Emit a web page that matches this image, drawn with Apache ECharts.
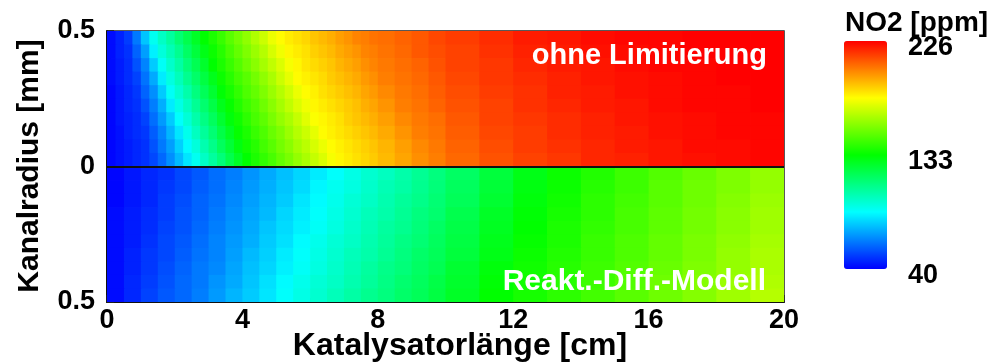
<!DOCTYPE html>
<html>
<head>
<meta charset="utf-8">
<script src="https://cdn.jsdelivr.net/npm/echarts@6/dist/echarts.min.js"></script>
<style>
  html, body { margin: 0; padding: 0; background: #ffffff; }
  #chart { width: 992px; height: 362px; }
</style>
</head>
<body>
<div id="chart"></div>
<script>
// Cell edges along the catalyst (cm), upper panel: 0.25 cm steps up to 8 cm, then 0.5 cm, then 1 cm
const xEdgesUpper = [0, 0.25, 0.5, 0.75, 1, 1.25, 1.5, 1.75, 2, 2.25, 2.5, 2.75, 3, 3.25, 3.5, 3.75, 4,
                     4.25, 4.5, 4.75, 5, 5.25, 5.5, 5.75, 6, 6.25, 6.5, 6.75, 7, 7.25, 7.5, 7.75, 8,
                     8.5, 9, 9.5, 10, 11, 12, 13, 14, 15, 16, 17, 18, 19, 20];
// Cell edges along the catalyst (cm), lower panel: 0.5 cm steps up to 10 cm, then 1 cm
const xEdgesLower = [0, 0.5, 1, 1.5, 2, 2.5, 3, 3.5, 4, 4.5, 5, 5.5, 6, 6.5, 7, 7.5, 8, 8.5, 9, 9.5, 10,
                     11, 12, 13, 14, 15, 16, 17, 18, 19, 20];

// Radial cell edges (mm): upper half from wall to axis, lower half from axis to wall
const yEdgesUpper = [0.5, 0.45, 0.4, 0.35, 0.3, 0.25, 0.2, 0.15, 0.1, 0.05, 0];
const yEdgesLower = [0, -0.05, -0.1, -0.15, -0.2, -0.25, -0.3, -0.35, -0.4, -0.45, -0.5];

// NO2 [ppm], "ohne Limitierung": one row per radial band, wall (r = 0.5) first
const no2Upper = [
  [42, 46, 51, 62, 76, 89, 97, 104, 112, 119, 126, 133, 138, 143, 149, 154, 159, 165, 170, 176, 180, 183, 185, 187, 190, 192, 194, 197, 199, 202, 203, 205, 206, 208, 210, 213, 215, 218, 221, 222, 224, 225, 225, 226, 226, 226],
  [42, 46, 49, 58, 69, 84, 93, 100, 107, 115, 122, 129, 135, 140, 146, 151, 156, 161, 166, 172, 177, 181, 183, 185, 188, 190, 192, 195, 197, 199, 202, 203, 205, 207, 210, 212, 214, 217, 220, 221, 223, 224, 225, 226, 226, 226],
  [42, 45, 48, 55, 64, 77, 88, 96, 103, 111, 118, 125, 133, 138, 143, 148, 153, 158, 163, 168, 173, 178, 181, 184, 186, 188, 190, 193, 195, 197, 200, 202, 204, 206, 208, 211, 214, 216, 219, 221, 222, 224, 225, 225, 226, 226],
  [42, 45, 48, 52, 61, 71, 83, 92, 99, 107, 114, 121, 128, 135, 140, 145, 149, 154, 159, 164, 170, 175, 180, 182, 184, 186, 189, 191, 193, 195, 198, 200, 203, 205, 207, 210, 213, 216, 218, 220, 222, 223, 224, 225, 226, 226],
  [41, 44, 47, 50, 58, 66, 77, 88, 95, 102, 110, 117, 124, 132, 137, 142, 147, 151, 156, 161, 166, 171, 176, 180, 182, 185, 187, 189, 191, 193, 196, 198, 201, 204, 206, 209, 212, 215, 217, 220, 221, 223, 224, 225, 225, 226],
  [41, 44, 47, 49, 55, 63, 72, 83, 91, 98, 106, 113, 120, 128, 134, 139, 144, 148, 153, 158, 163, 168, 173, 177, 181, 183, 185, 187, 189, 191, 194, 196, 199, 203, 205, 208, 211, 214, 217, 219, 221, 222, 224, 225, 225, 226],
  [41, 44, 46, 48, 52, 60, 68, 77, 87, 94, 102, 109, 116, 124, 131, 136, 141, 146, 150, 155, 160, 164, 169, 174, 179, 181, 183, 185, 188, 190, 192, 194, 197, 201, 204, 206, 210, 214, 216, 218, 220, 222, 223, 224, 225, 225],
  [41, 43, 46, 48, 50, 57, 64, 73, 82, 90, 98, 105, 112, 120, 127, 134, 138, 143, 147, 152, 156, 161, 166, 170, 175, 180, 182, 184, 186, 188, 190, 192, 195, 199, 203, 205, 209, 213, 215, 218, 220, 221, 223, 224, 225, 225],
  [41, 43, 45, 47, 49, 55, 62, 69, 78, 86, 93, 101, 108, 116, 123, 130, 136, 140, 145, 149, 154, 158, 163, 167, 172, 176, 180, 182, 184, 186, 188, 190, 193, 197, 201, 204, 208, 212, 215, 217, 219, 221, 222, 224, 224, 225],
  [41, 43, 45, 47, 49, 53, 59, 66, 74, 82, 89, 97, 104, 111, 119, 126, 133, 138, 142, 146, 151, 155, 160, 164, 169, 173, 178, 181, 183, 185, 187, 189, 192, 196, 200, 203, 207, 211, 214, 216, 219, 220, 222, 223, 224, 225]
];

// NO2 [ppm], "Reakt.-Diff.-Modell": one row per radial band, axis (r = 0) first
const no2Lower = [
  [41, 44, 47, 49, 53, 56, 60, 63, 67, 71, 75, 79, 83, 87, 91, 95, 98, 102, 106, 110, 115, 122, 129, 135, 139, 144, 148, 152, 156, 160],
  [41, 44, 47, 50, 53, 57, 60, 64, 68, 72, 76, 80, 85, 89, 92, 96, 100, 103, 107, 111, 116, 123, 130, 135, 140, 144, 149, 153, 156, 160],
  [41, 44, 47, 51, 54, 58, 61, 65, 69, 73, 77, 82, 86, 90, 94, 97, 101, 105, 108, 112, 117, 124, 131, 136, 141, 145, 149, 153, 157, 161],
  [42, 45, 48, 51, 55, 58, 62, 66, 70, 74, 79, 83, 87, 91, 95, 99, 102, 106, 110, 113, 119, 126, 132, 137, 141, 146, 150, 154, 158, 162],
  [42, 45, 48, 52, 55, 59, 63, 67, 71, 76, 80, 84, 88, 92, 96, 100, 104, 107, 111, 115, 120, 127, 133, 138, 142, 146, 150, 154, 158, 162],
  [42, 45, 49, 53, 56, 60, 64, 68, 72, 77, 81, 86, 90, 94, 97, 101, 105, 109, 112, 116, 121, 128, 134, 138, 143, 147, 151, 155, 159, 163],
  [42, 46, 50, 53, 57, 61, 64, 69, 74, 78, 83, 87, 91, 95, 99, 102, 106, 110, 114, 117, 122, 129, 135, 139, 143, 147, 151, 155, 160, 164],
  [42, 46, 50, 54, 58, 62, 65, 70, 75, 79, 84, 88, 92, 96, 100, 104, 108, 111, 115, 118, 124, 131, 136, 140, 144, 148, 152, 156, 160, 164],
  [42, 47, 51, 55, 59, 62, 67, 71, 76, 81, 86, 90, 94, 97, 101, 105, 109, 113, 116, 120, 125, 132, 136, 140, 144, 148, 153, 157, 161, 165],
  [42, 47, 52, 56, 59, 63, 68, 73, 77, 82, 87, 91, 95, 99, 103, 107, 110, 114, 117, 121, 126, 133, 137, 141, 145, 149, 153, 157, 162, 166]
];

const colorRange = [40, 226];
const colorbarTicks = [40, 133, 226];
const panelLabels = ['ohne Limitierung', 'Reakt.-Diff.-Modell'];
const axisTitles = { x: 'Katalysatorlänge [cm]', y: 'Kanalradius [mm]', color: 'NO2 [ppm]' };

const FONT = "'Liberation Sans', Arial, Helvetica, sans-serif";

// Flatten a block of rows into [x0, x1, y0, y1, value] cells
function toCells(rows, xEdges, yEdges) {
  const out = [];
  rows.forEach(function (row, i) {
    row.forEach(function (v, j) {
      out.push([xEdges[j], xEdges[j + 1], yEdges[i], yEdges[i + 1], v]);
    });
  });
  return out;
}

function renderCell(params, api) {
  const p0 = api.coord([api.value(0), api.value(2)]);
  const p1 = api.coord([api.value(1), api.value(3)]);
  const x = Math.min(p0[0], p1[0]);
  const y = Math.min(p0[1], p1[1]);
  return {
    type: 'rect',
    shape: { x: x, y: y, width: Math.abs(p1[0] - p0[0]) + 0.8, height: Math.abs(p1[1] - p0[1]) + 0.8 },
    style: { fill: api.visual('color') }
  };
}

const chart = echarts.init(document.getElementById('chart'), null, { renderer: 'canvas' });

const boldText = function (size, color) {
  return { color: color || '#000', fontFamily: FONT, fontWeight: 'bold', fontSize: size };
};

chart.setOption({
  animation: false,
  backgroundColor: '#ffffff',
  grid: [
    { left: 107, top: 31, width: 677, height: 271, show: true, borderColor: '#222', borderWidth: 1.5, backgroundColor: 'transparent' },
    { left: 844, top: 48, width: 43, height: 228, show: false }
  ],
  xAxis: [
    {
      type: 'value', gridIndex: 0, min: 0, max: 20, interval: 4,
      axisLine: { show: true, onZero: false, lineStyle: { color: '#111', width: 2 } },
      axisTick: { show: true, inside: true, length: 7, lineStyle: { color: '#222', width: 1.5 } },
      minorTick: { show: true, splitNumber: 4, length: 4, lineStyle: { color: '#333', width: 1 } },
      splitLine: { show: false },
      axisLabel: Object.assign({ margin: 5 }, boldText(27))
    },
    { type: 'value', gridIndex: 1, show: false, min: 0, max: 1 }
  ],
  yAxis: [
    {
      type: 'value', gridIndex: 0, min: -0.5, max: 0.5, interval: 0.5,
      axisLine: { show: true, onZero: false, lineStyle: { color: '#111', width: 2 } },
      axisTick: { show: true, inside: true, length: 7, lineStyle: { color: '#222', width: 1.5 } },
      minorTick: { show: true, splitNumber: 5, length: 4, lineStyle: { color: '#333', width: 1 } },
      splitLine: { show: false },
      axisLabel: Object.assign({
        margin: 12,
        padding: [4, 0, 0, 0],
        formatter: function (v) { return String(Math.abs(v)); }
      }, boldText(27))
    },
    {
      type: 'value', gridIndex: 1, min: colorRange[0], max: colorRange[1], position: 'right',
      axisLine: { show: false }, axisTick: { show: false }, splitLine: { show: false },
      axisLabel: Object.assign({ margin: 21, customValues: colorbarTicks, showMinLabel: true, showMaxLabel: true }, boldText(27))
    }
  ],
  visualMap: {
    type: 'continuous',
    min: colorRange[0], max: colorRange[1],
    dimension: 4,
    seriesIndex: [0, 1],
    orient: 'vertical',
    left: 844, top: 41,
    itemWidth: 43, itemHeight: 228,
    padding: 0,
    calculable: false,
    hoverLink: false,
    text: null,
    inRange: { color: ['#0000ff', '#00ffff', '#00ff00', '#ffff00', '#ff0000'] }
  },
  series: [
    {
      name: panelLabels[0],
      type: 'custom',
      xAxisIndex: 0, yAxisIndex: 0,
      clip: true,
      renderItem: renderCell,
      encode: { x: [0, 1], y: [2, 3] },
      data: toCells(no2Upper, xEdgesUpper, yEdgesUpper),
      silent: true,
      markLine: {
        silent: true,
        symbol: ['none', 'none'],
        label: { show: false },
        lineStyle: { color: '#111', width: 2, type: 'solid' },
        data: [{ yAxis: 0 }]
      },
      z: 1
    },
    {
      name: panelLabels[1],
      type: 'custom',
      xAxisIndex: 0, yAxisIndex: 0,
      clip: true,
      renderItem: renderCell,
      encode: { x: [0, 1], y: [2, 3] },
      data: toCells(no2Lower, xEdgesLower, yEdgesLower),
      silent: true,
      z: 1
    }
  ],
  graphic: [
    {
      type: 'text', x: 30, y: 166, rotation: Math.PI / 2, z: 10,
      style: { text: axisTitles.y, fill: '#000', font: 'bold 30px ' + FONT, align: 'center', verticalAlign: 'middle' }
    },
    {
      type: 'text', x: 460, y: 346, z: 10,
      style: { text: axisTitles.x, fill: '#000', font: 'bold 32px ' + FONT, align: 'center', verticalAlign: 'middle' }
    },
    {
      type: 'text', x: 845, y: 23, z: 10,
      style: { text: axisTitles.color, fill: '#000', font: 'bold 28px ' + FONT, align: 'left', verticalAlign: 'middle' }
    },
    {
      type: 'text', x: 767, y: 56, z: 10,
      style: { text: panelLabels[0], fill: '#ffffff', font: 'bold 29px ' + FONT, align: 'right', verticalAlign: 'middle' }
    },
    {
      type: 'text', x: 766, y: 282, z: 10,
      style: { text: panelLabels[1], fill: '#ffffff', font: 'bold 30px ' + FONT, align: 'right', verticalAlign: 'middle' }
    }
  ]
});
</script>
</body>
</html>
